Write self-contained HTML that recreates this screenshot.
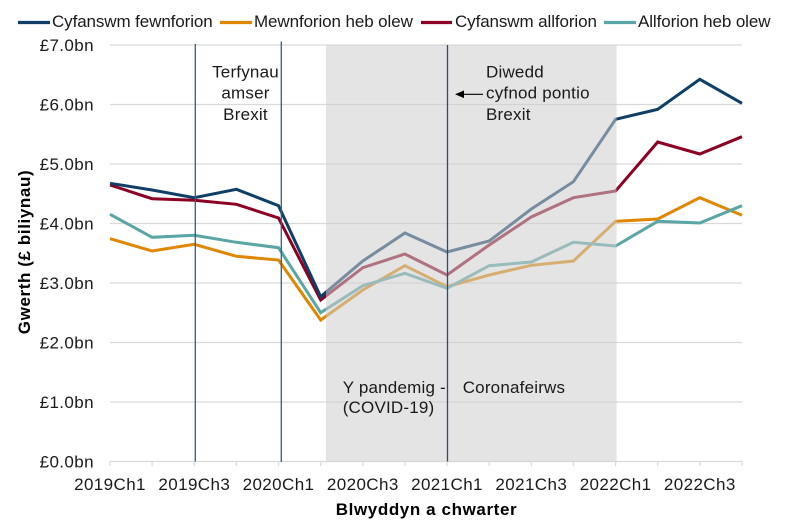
<!DOCTYPE html>
<html>
<head>
<meta charset="utf-8">
<style>
  html, body { margin:0; padding:0; background:#fff; }
  svg { display:block; }
  text { font-family: "Liberation Sans", Arial, sans-serif; fill:#1a1a1a; }
  .tick { font-size:17px; letter-spacing:0.4px; }
  .leg { font-size:17px; letter-spacing:-0.1px; }
  .ann { font-size:17px; letter-spacing:0.2px; }
  .title { font-size:17px; font-weight:bold; letter-spacing:0.6px; fill:#000; }
</style>
</head>
<body>
<svg width="785" height="528" viewBox="0 0 785 528" xmlns="http://www.w3.org/2000/svg">
  <rect x="0" y="0" width="785" height="528" fill="#fff"/>

  <!-- gridlines -->
  <g stroke="#d9d9d9" stroke-width="1.3">
    <line x1="110" y1="45" x2="742" y2="45"/>
    <line x1="110" y1="104.5" x2="742" y2="104.5"/>
    <line x1="110" y1="164" x2="742" y2="164"/>
    <line x1="110" y1="223.5" x2="742" y2="223.5"/>
    <line x1="110" y1="283" x2="742" y2="283"/>
    <line x1="110" y1="342.5" x2="742" y2="342.5"/>
    <line x1="110" y1="402" x2="742" y2="402"/>
    <line x1="110" y1="461.5" x2="742" y2="461.5"/>
  </g>
  <!-- x ticks -->
  <g stroke="#d9d9d9" stroke-width="1.2">
    <line x1="110" y1="461.5" x2="110" y2="466"/>
    <line x1="152.1" y1="461.5" x2="152.1" y2="466"/>
    <line x1="194.3" y1="461.5" x2="194.3" y2="466"/>
    <line x1="236.4" y1="461.5" x2="236.4" y2="466"/>
    <line x1="278.5" y1="461.5" x2="278.5" y2="466"/>
    <line x1="320.7" y1="461.5" x2="320.7" y2="466"/>
    <line x1="362.8" y1="461.5" x2="362.8" y2="466"/>
    <line x1="404.9" y1="461.5" x2="404.9" y2="466"/>
    <line x1="447" y1="461.5" x2="447" y2="466"/>
    <line x1="489.2" y1="461.5" x2="489.2" y2="466"/>
    <line x1="531.3" y1="461.5" x2="531.3" y2="466"/>
    <line x1="573.4" y1="461.5" x2="573.4" y2="466"/>
    <line x1="615.6" y1="461.5" x2="615.6" y2="466"/>
    <line x1="657.7" y1="461.5" x2="657.7" y2="466"/>
    <line x1="699.8" y1="461.5" x2="699.8" y2="466"/>
    <line x1="742" y1="461.5" x2="742" y2="466"/>
  </g>

  <!-- series -->
  <g fill="none" stroke-width="3" stroke-linejoin="miter" stroke-linecap="butt">
    <polyline stroke="#e08700" points="110,238.7 152.1,251 194.3,244.3 236.4,256.3 278.5,260 320.7,320 362.8,290 404.9,265.7 447,286.7 489.2,275 531.3,265.3 573.4,261 615.6,221.3 657.7,219 699.8,197.7 742,215.3"/>
    <polyline stroke="#5aa5a5" points="110,214.3 152.1,237.3 194.3,235.3 236.4,242.3 278.5,247.7 320.7,312.7 362.8,285.7 404.9,273.3 447,288.3 489.2,265.7 531.3,262 573.4,242.3 615.6,246 657.7,221.3 699.8,223 742,205.7"/>
    <polyline stroke="#8c0023" points="110,185 152.1,198.7 194.3,200.3 236.4,204.3 278.5,218 320.7,300 362.8,267.7 404.9,254 447,275 489.2,245 531.3,217 573.4,197.7 615.6,191 657.7,142 699.8,154 742,136.7"/>
    <polyline stroke="#0f3f67" points="110,183.3 152.1,190 194.3,197.7 236.4,189.3 278.5,205.7 320.7,296.7 362.8,261 404.9,233 447,252 489.2,241 531.3,209 573.4,181.7 615.6,119.3 657.7,109.3 699.8,79.3 742,103.3"/>
  </g>

  <!-- shaded pandemic region -->
  <rect x="326" y="45" width="290.6" height="416.5" fill="rgba(205,205,205,0.55)"/>

  <!-- vertical event lines -->
  <line x1="195.3" y1="44" x2="195.3" y2="461.5" stroke="#2f5d86" stroke-width="1.3"/>
  <line x1="281.3" y1="41.5" x2="281.3" y2="462" stroke="#2f5d86" stroke-width="1.3"/>
  <line x1="447.5" y1="45" x2="447.5" y2="461.5" stroke="#1f4e79" stroke-width="1.3"/>

  <!-- y tick labels -->
  <g class="tick" text-anchor="end">
    <text x="94" y="51">£7.0bn</text>
    <text x="94" y="110.5">£6.0bn</text>
    <text x="94" y="170">£5.0bn</text>
    <text x="94" y="229.5">£4.0bn</text>
    <text x="94" y="289">£3.0bn</text>
    <text x="94" y="348.5">£2.0bn</text>
    <text x="94" y="408">£1.0bn</text>
    <text x="94" y="467.5">£0.0bn</text>
  </g>

  <!-- x tick labels -->
  <g class="tick" text-anchor="middle">
    <text x="110" y="490">2019Ch1</text>
    <text x="194.3" y="490">2019Ch3</text>
    <text x="278.5" y="490">2020Ch1</text>
    <text x="362.8" y="490">2020Ch3</text>
    <text x="447" y="490">2021Ch1</text>
    <text x="531.3" y="490">2021Ch3</text>
    <text x="615.6" y="490">2022Ch1</text>
    <text x="699.8" y="490">2022Ch3</text>
  </g>

  <!-- axis titles -->
  <text class="title" x="426.5" y="515" text-anchor="middle">Blwyddyn a chwarter</text>
  <text class="title" transform="translate(30,252) rotate(-90)" text-anchor="middle">Gwerth (£ biliynau)</text>

  <!-- annotations -->
  <g class="ann" text-anchor="middle">
    <text x="245.5" y="77.5">Terfynau</text>
    <text x="245.5" y="98.7">amser</text>
    <text x="245.5" y="119.8">Brexit</text>
  </g>
  <g class="ann">
    <text x="486" y="77.5">Diwedd</text>
    <text x="486" y="98.7">cyfnod pontio</text>
    <text x="486" y="119.8">Brexit</text>
    <text x="342.7" y="393">Y pandemig -</text>
    <text x="462.7" y="393">Coronafeirws</text>
    <text x="342.7" y="413">(COVID-19)</text>
  </g>
  <line x1="462" y1="94.3" x2="483" y2="94.3" stroke="#000" stroke-width="1.2"/>
  <polygon points="455,94.3 464,90.5 464,98.1" fill="#000"/>

  <!-- legend -->
  <g stroke-width="3.2">
    <line x1="18" y1="22.5" x2="50" y2="22.5" stroke="#0f3f67"/>
    <line x1="220" y1="22.5" x2="252" y2="22.5" stroke="#e08700"/>
    <line x1="421" y1="22.5" x2="452" y2="22.5" stroke="#8c0023"/>
    <line x1="604" y1="22.5" x2="636" y2="22.5" stroke="#5aa5a5"/>
  </g>
  <g class="leg">
    <text x="52" y="27">Cyfanswm fewnforion</text>
    <text x="254" y="27">Mewnforion heb olew</text>
    <text x="455" y="27">Cyfanswm allforion</text>
    <text x="638" y="27">Allforion heb olew</text>
  </g>
</svg>
</body>
</html>
